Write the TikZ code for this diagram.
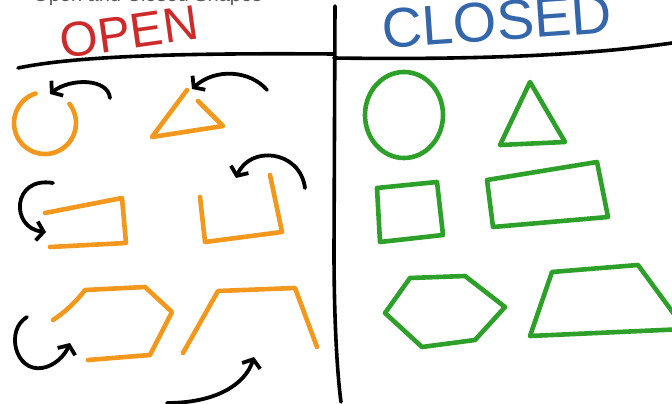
\documentclass[tikz,border=0pt]{standalone}
\usepackage{fontspec}
\setmainfont{Liberation Sans}
\usetikzlibrary{arrows.meta}

\definecolor{penred}{RGB}{206,42,42}
\definecolor{penblue}{RGB}{52,102,172}
\definecolor{penorange}{RGB}{243,152,28}
\definecolor{pengreen}{RGB}{44,160,40}
\definecolor{titlegray}{RGB}{90,90,90}

\begin{document}
\begin{tikzpicture}[x=1pt, y=-1pt, line cap=round, line join=round,
        divider/.style={line width=3.6pt, black},
        openshape/.style={line width=4.6pt, penorange},
        closedshape/.style={line width=4.6pt, pengreen},
        pointer/.style={line width=3.8pt, black, -{Straight Barb[length=7pt, width=19pt, line width=3.8pt]}}]
            \clip (0,0) rectangle (672,404);

            % Title cut at the top edge and the two headings
            \node[anchor=base west, inner sep=0pt, titlegray, font=\fontsize{20}{20}\selectfont] (title) at (33,1.5) {Open and Closed Shapes};
            \node[penred, rotate=8, inner sep=0pt, font=\fontsize{49}{49}\selectfont] (openlabel) at (129,32) {OPEN};
            \node[penblue, rotate=4, inner sep=0pt, font=\fontsize{56}{56}\selectfont] (closedlabel) at (497,21) {CLOSED};

            % Draw the dividing lines
            \draw[divider] (18,68) .. controls (80,55) and (200,53) .. (334,54);
            \draw[divider] (334,58) .. controls (480,60) and (590,55) .. (672,43);
            \draw[divider] (335,6) -- (334,250) .. controls (334,330) and (338,380) .. (341,402);

            % Open shapes
            \draw[openshape] (45,123) ++(-108:31) arc[start angle=-108, end angle=-398, radius=31];
            \draw[openshape] (187,90) -- (152,137) -- (223,126) -- (198,101);
            \draw[openshape] (45,213) -- (122,198) -- (126,243) -- (50,247);
            \draw[openshape] (200,197) -- (205,242) -- (282,232) -- (270,175);
            \draw[openshape] (53,320) .. controls (65,312) and (75,303) .. (85,290) -- (145,287) -- (172,312) -- (150,355) -- (88,360);
            \draw[openshape] (183,353) -- (218,291) -- (295,288) -- (317,347);

            % Arrows showing the gaps
            \draw[pointer] (110,98) .. controls (108,78) and (70,78) .. (50,94);
            \draw[pointer] (267,90) .. controls (250,70) and (215,68) .. (192,89);
            \draw[pointer] (53,183) .. controls (12,176) and (10,228) .. (46,232);
            \draw[pointer] (305,188) .. controls (300,150) and (250,145) .. (236,178);
            \draw[pointer] (27,317) .. controls (5,330) and (15,372) .. (42,368) .. controls (55,366) and (65,355) .. (70,343);
            \draw[pointer] (167,403) .. controls (215,403) and (245,385) .. (254,357);

            % Closed shapes
            \draw[closedshape] (404,115) ellipse [x radius=39, y radius=43];
            \draw[closedshape] (530,82) -- (500,145) -- (565,142) -- cycle;
            \draw[closedshape] (377,188) -- (437,182) -- (443,235) -- (380,242) -- cycle;
            \draw[closedshape] (487,180) -- (597,162) -- (608,217) -- (493,227) -- cycle;
            \draw[closedshape] (385,313) -- (410,278) -- (465,276) -- (505,307) -- (475,340) -- (422,347) -- cycle;
            \draw[closedshape] (530,336) -- (552,272) -- (638,265) -- (685,329) -- cycle;
        \end{tikzpicture}
\end{document}
